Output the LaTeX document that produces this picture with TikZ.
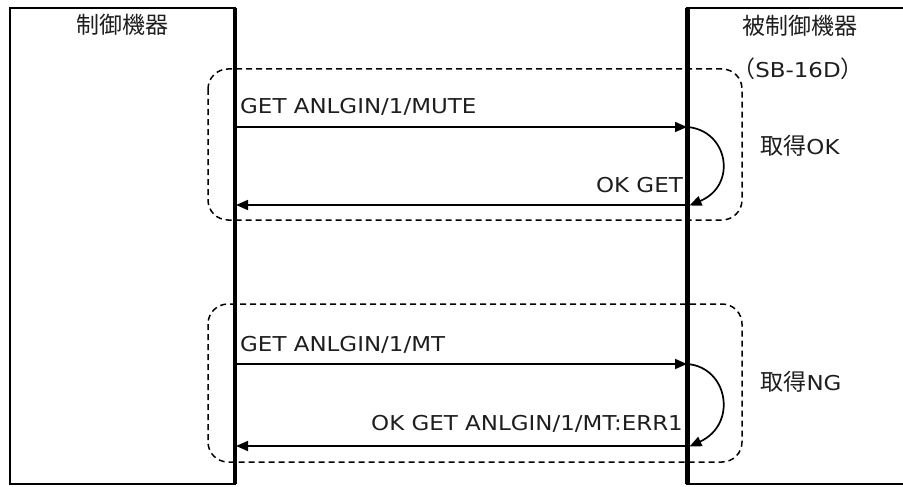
\documentclass[tikz,border=0pt]{standalone}
\usepackage{fontspec}
\setmainfont{DejaVu Sans}[FakeStretch=1.12]
\newfontfamily\jpfont{Noto Sans CJK JP}
\usetikzlibrary{arrows.meta}
\definecolor{ink}{HTML}{1E1E1E}
\newcommand\latsize{\fontsize{20.5}{24}\selectfont}
\newcommand\kj[1]{{\jpfont\fontsize{23}{26}\selectfont #1}}
\tikzset{
  device/.style={draw=black,line width=2.8pt},
  lifeline/.style={draw=black,line width=4.6pt},
  group/.style={draw=black,line width=1.5pt,dash pattern=on 6pt off 4pt,rounded corners=20pt},
  msg/.style={draw=black,line width=1.7pt,-{Triangle[length=12pt,width=10pt]}},
  label/.style={inner sep=0pt,text height=15pt,text depth=0pt,text=ink,font=\latsize},
}
\begin{document}
\begin{tikzpicture}[x=1pt,y=-1pt]
  \useasboundingbox (0,0) rectangle (903,487);
  \clip (0,0) rectangle (903,487);

  % lifeline end points
  \coordinate (ctop) at (235,8);
  \coordinate (cbot) at (235,484);
  \coordinate (ttop) at (687.5,8);
  \coordinate (tbot) at (687.5,484);

  % devices
  \draw[device] (10,8) rectangle (cbot);
  \draw[device] (ttop) rectangle (920,484);
  \draw[lifeline] (ctop) -- (cbot);
  \draw[lifeline] (ttop) -- (tbot);

  \node[label] (ctl) at (122,26) {\kj{制御機器}};
  \node[label] (tgt) at (800,27) {\kj{被制御機器}};
  \node[label] (model) at (798,70) {\kj{（}SB-16D\kj{）}};

  % exchange groups
  \draw[group] (208,69) rectangle (742,220);
  \draw[group] (208,304) rectangle (742,462);

  % first exchange: query succeeds
  \coordinate (a1) at (235,127);
  \coordinate (b1) at (687,127);
  \coordinate (b2) at (689.5,205.5);
  \coordinate (a2) at (687,205);
  \coordinate (a2l) at (236,205);
  \draw[msg] (a1) -- (b1);
  \draw[msg] (b1) .. controls (728,130) and (738,185) .. (b2);
  \draw[msg] (a2) -- (a2l);
  \node[label,anchor=west] (q1) at (240,106) {GET ANLGIN/1/MUTE};
  \node[label,anchor=east] (r1) at (683,185) {OK GET};
  \node[label] (ok) at (800,147) {\kj{取得}OK};

  % second exchange: query fails
  \coordinate (a3) at (235,364);
  \coordinate (b3) at (687,364);
  \coordinate (b4) at (689.5,446.5);
  \coordinate (a4) at (687,446);
  \coordinate (a4l) at (236,446);
  \draw[msg] (a3) -- (b3);
  \draw[msg] (b3) .. controls (728,367) and (738,424) .. (b4);
  \draw[msg] (a4) -- (a4l);
  \node[label,anchor=west] (q2) at (240,343.5) {GET ANLGIN/1/MT};
  \node[label,anchor=east] (r2) at (683,423) {OK GET ANLGIN/1/MT:ERR1};
  \node[label] (ng) at (801,383) {\kj{取得}NG};
\end{tikzpicture}
\end{document}
